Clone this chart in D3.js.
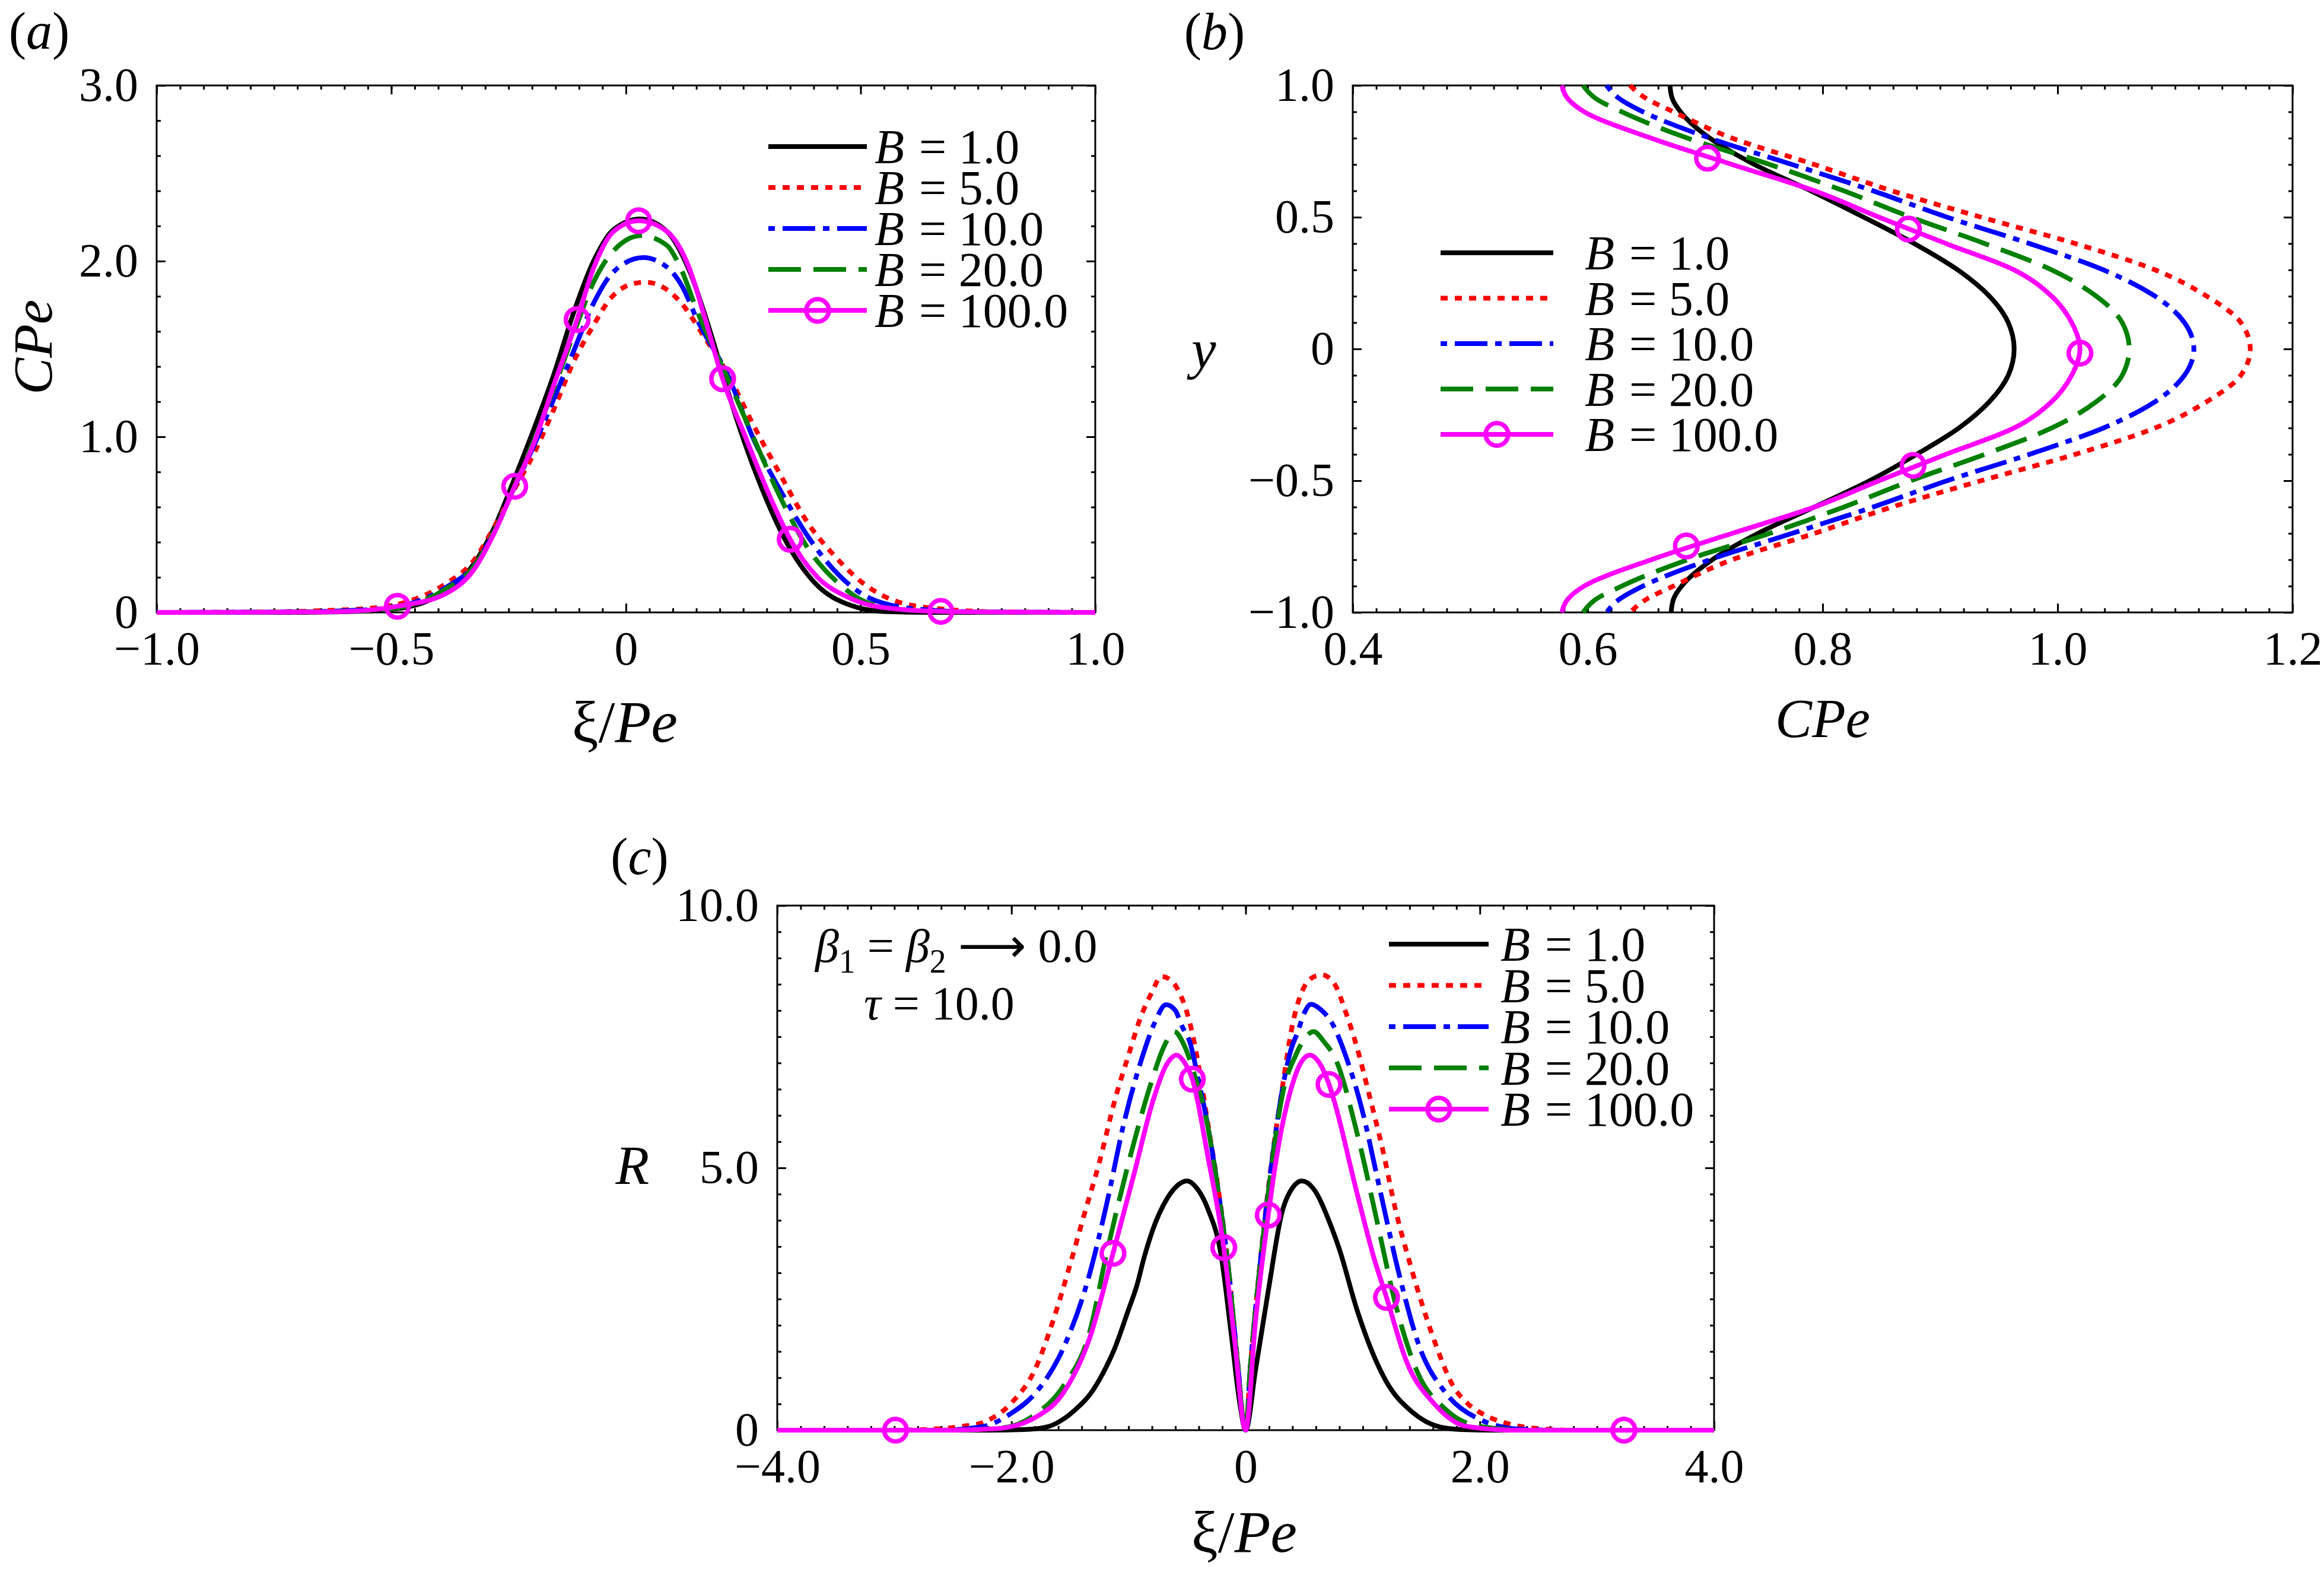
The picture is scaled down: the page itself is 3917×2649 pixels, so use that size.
<!DOCTYPE html>
<html>
<head>
<meta charset="utf-8">
<script src="https://cdn.jsdelivr.net/npm/d3@7"></script>
<style>
  body { margin: 0; background: #fff; }
  svg text { fill: #000; }
</style>
</head>
<body>
<svg id="fig" width="3917" height="2649"></svg>
<script>
const fontFamily = "'Liberation Serif', 'Times New Roman', serif"

// legend labels, one per B value
const bLabels = ['1.0', '5.0', '10.0', '20.0', '100.0']

// panel (a): CPe against xi/Pe, pairs of [xi/Pe, CPe]
const aB1 = [[-1, 0], [-0.7, 0], [-0.6, 0.004], [-0.535, 0.01], [-0.45, 0.04], [-0.386, 0.12], [-0.323, 0.28], [-0.28, 0.486], [-0.238, 0.758], [-0.196, 1.045], [-0.153, 1.36], [-0.111, 1.71], [-0.069, 2.0], [-0.026, 2.18], [0.03, 2.24], [0.087, 2.17], [0.135, 1.947], [0.184, 1.56], [0.217, 1.26], [0.256, 0.943], [0.3, 0.639], [0.342, 0.4], [0.405, 0.161], [0.478, 0.041], [0.55, 0.005], [0.65, 0], [1, 0]]
const aB5 = [[-1, 0], [-0.75, 0.003], [-0.65, 0.01], [-0.535, 0.026], [-0.45, 0.075], [-0.386, 0.16], [-0.323, 0.3], [-0.28, 0.49], [-0.238, 0.7], [-0.196, 0.905], [-0.153, 1.16], [-0.111, 1.43], [-0.069, 1.635], [-0.035, 1.78], [0.008, 1.866], [0.042, 1.88], [0.08, 1.85], [0.115, 1.77], [0.168, 1.564], [0.217, 1.357], [0.271, 1.07], [0.329, 0.784], [0.387, 0.512], [0.445, 0.32], [0.508, 0.161], [0.574, 0.065], [0.671, 0.02], [0.8, 0.003], [1, 0]]
const aB10 = [[-1, 0], [-0.7, 0.003], [-0.6, 0.01], [-0.535, 0.018], [-0.45, 0.058], [-0.386, 0.138], [-0.323, 0.27], [-0.28, 0.46], [-0.238, 0.71], [-0.196, 0.95], [-0.153, 1.22], [-0.111, 1.49], [-0.069, 1.76], [-0.026, 1.94], [0.037, 2.02], [0.09, 1.96], [0.119, 1.86], [0.153, 1.66], [0.217, 1.35], [0.274, 0.974], [0.334, 0.671], [0.392, 0.416], [0.455, 0.209], [0.52, 0.081], [0.62, 0.02], [0.75, 0.003], [1, 0]]
const aB20 = [[-1, 0], [-0.7, 0.002], [-0.6, 0.006], [-0.535, 0.012], [-0.45, 0.05], [-0.386, 0.13], [-0.323, 0.265], [-0.28, 0.465], [-0.238, 0.715], [-0.196, 0.98], [-0.153, 1.28], [-0.111, 1.59], [-0.069, 1.88], [-0.026, 2.06], [0.033, 2.145], [0.087, 2.09], [0.116, 1.963], [0.153, 1.707], [0.217, 1.33], [0.271, 1.0], [0.329, 0.655], [0.387, 0.368], [0.455, 0.161], [0.52, 0.05], [0.62, 0.01], [0.75, 0.002], [1, 0]]
const aB100 = [[-1, 0], [-0.7, 0.002], [-0.577, 0.008], [-0.487, 0.035], [-0.386, 0.104], [-0.323, 0.247], [-0.28, 0.455], [-0.237, 0.718], [-0.196, 0.965], [-0.153, 1.3], [-0.104, 1.667], [-0.069, 1.96], [-0.026, 2.17], [0.027, 2.23], [0.087, 2.17], [0.135, 1.96], [0.17, 1.66], [0.206, 1.33], [0.256, 0.99], [0.31, 0.64], [0.35, 0.416], [0.405, 0.209], [0.478, 0.081], [0.574, 0.02], [0.671, 0.006], [0.8, 0.002], [1, 0]]
const aMarkers = [[-0.487, 0.035], [-0.237, 0.718], [-0.104, 1.667], [0.027, 2.23], [0.206, 1.33], [0.35, 0.416], [0.671, 0.006]]

// panel (b): CPe at each y across the channel
const yLevels = [1, 0.95, 0.9, 0.8, 0.7, 0.6, 0.5, 0.4, 0.3, 0.2, 0.1, 0, -0.1, -0.2, -0.3, -0.4, -0.5, -0.6, -0.7, -0.8, -0.9, -0.95, -1]
const bB1 = [0.670, 0.672, 0.679, 0.704, 0.742, 0.790, 0.835, 0.878, 0.915, 0.942, 0.958, 0.963, 0.958, 0.942, 0.916, 0.880, 0.840, 0.793, 0.745, 0.706, 0.680, 0.673, 0.671]
const bB5 = [0.636, 0.650, 0.673, 0.723, 0.793, 0.859, 0.935, 1.015, 1.083, 1.127, 1.156, 1.164, 1.156, 1.127, 1.083, 1.015, 0.935, 0.859, 0.793, 0.723, 0.673, 0.650, 0.636]
const bB10 = [0.616, 0.627, 0.647, 0.704, 0.774, 0.843, 0.906, 0.976, 1.039, 1.083, 1.108, 1.116, 1.108, 1.083, 1.039, 0.976, 0.906, 0.843, 0.774, 0.704, 0.647, 0.627, 0.616]
const bB20 = [0.596, 0.607, 0.629, 0.685, 0.755, 0.818, 0.875, 0.938, 0.995, 1.033, 1.055, 1.061, 1.055, 1.033, 0.995, 0.938, 0.875, 0.818, 0.755, 0.685, 0.629, 0.607, 0.596]
const bB100 = [0.578, 0.583, 0.597, 0.654, 0.723, 0.793, 0.848, 0.905, 0.963, 0.995, 1.012, 1.019, 1.012, 0.995, 0.963, 0.905, 0.848, 0.793, 0.723, 0.654, 0.597, 0.583, 0.578]
const bMarkers = [[0.702, 0.724], [0.873, 0.455], [1.019, -0.016], [0.877, -0.442], [0.684, -0.748]]

// panel (c): R against xi/Pe
const cB1 = [[-4, 0], [-2.2, 0], [-1.9, 0.01], [-1.7, 0.06], [-1.55, 0.22], [-1.45, 0.4], [-1.33, 0.68], [-1.22, 1.08], [-1.12, 1.55], [-1.0, 2.3], [-0.93, 2.75], [-0.866, 3.3], [-0.77, 3.96], [-0.7, 4.3], [-0.59, 4.65], [-0.5, 4.75], [-0.42, 4.62], [-0.323, 4.22], [-0.21, 3.34], [-0.12, 1.77], [-0.05, 0.51], [0, 0], [0.084, 1.14], [0.197, 2.71], [0.31, 4.15], [0.4, 4.62], [0.48, 4.75], [0.58, 4.6], [0.717, 3.96], [0.8, 3.45], [0.95, 2.3], [1.07, 1.55], [1.2, 0.93], [1.42, 0.35], [1.66, 0.06], [1.85, 0.01], [2.1, 0], [4, 0]]
const cB5 = [[-4, 0], [-3, 0], [-2.6, 0.03], [-2.4, 0.08], [-2.24, 0.15], [-2.0, 0.52], [-1.8, 1.15], [-1.65, 2.05], [-1.5, 3.15], [-1.38, 4.1], [-1.25, 5.1], [-1.11, 6.35], [-1.0, 7.15], [-0.9, 7.85], [-0.8, 8.35], [-0.72, 8.65], [-0.64, 8.58], [-0.57, 8.36], [-0.46, 7.61], [-0.39, 6.79], [-0.323, 5.85], [-0.233, 4.59], [-0.143, 3.02], [-0.075, 1.45], [0, 0], [0.04, 1.2], [0.13, 3.34], [0.22, 5.09], [0.31, 6.48], [0.4, 7.73], [0.5, 8.45], [0.6, 8.66], [0.65, 8.68], [0.76, 8.5], [0.85, 8.0], [0.95, 7.3], [1.06, 6.35], [1.17, 5.35], [1.28, 4.2], [1.4, 3.2], [1.5, 2.45], [1.62, 1.65], [1.77, 0.85], [1.9, 0.5], [2.05, 0.28], [2.23, 0.13], [2.5, 0.03], [2.8, 0], [4, 0]]
const cB10 = [[-4, 0], [-2.6, 0], [-2.24, 0.07], [-2.01, 0.31], [-1.79, 0.72], [-1.56, 1.55], [-1.35, 2.84], [-1.19, 4.28], [-1.04, 5.85], [-0.885, 7.1], [-0.78, 7.75], [-0.68, 8.11], [-0.6, 8.0], [-0.55, 7.73], [-0.47, 7.35], [-0.41, 6.75], [-0.323, 5.8], [-0.233, 4.55], [-0.143, 3.0], [-0.075, 1.44], [0, 0], [0.04, 1.2], [0.13, 3.3], [0.22, 5.05], [0.31, 6.45], [0.38, 7.2], [0.446, 7.6], [0.5, 7.95], [0.559, 8.12], [0.64, 8.02], [0.74, 7.75], [0.86, 7.1], [0.988, 6.16], [1.146, 4.59], [1.305, 3.02], [1.486, 1.58], [1.712, 0.7], [2.005, 0.2], [2.34, 0.02], [2.7, 0], [4, 0]]
const cB20 = [[-4, 0], [-2.5, 0], [-2.06, 0.05], [-1.79, 0.31], [-1.56, 0.83], [-1.33, 1.89], [-1.19, 3.34], [-0.97, 5.35], [-0.81, 6.6], [-0.7, 7.3], [-0.61, 7.6], [-0.53, 7.36], [-0.44, 6.8], [-0.323, 5.78], [-0.233, 4.53], [-0.143, 3.0], [-0.075, 1.43], [0, 0], [0.04, 1.2], [0.13, 3.3], [0.22, 5.0], [0.31, 6.35], [0.43, 7.16], [0.5, 7.45], [0.58, 7.6], [0.67, 7.4], [0.762, 7.1], [0.966, 5.53], [1.124, 3.96], [1.28, 2.4], [1.46, 1.14], [1.71, 0.39], [2.0, 0.07], [2.4, 0], [4, 0]]
const cB100 = [[-4, 0], [-2.5, 0], [-2.12, 0.03], [-1.79, 0.25], [-1.56, 0.7], [-1.33, 1.77], [-1.133, 3.37], [-0.95, 4.91], [-0.79, 6.29], [-0.68, 6.95], [-0.59, 7.15], [-0.52, 7.0], [-0.455, 6.69], [-0.323, 5.22], [-0.187, 3.48], [-0.097, 1.77], [0, 0], [0.084, 2.08], [0.193, 4.1], [0.265, 5.22], [0.4, 6.6], [0.47, 7.0], [0.548, 7.15], [0.63, 7.0], [0.712, 6.59], [0.762, 6.23], [0.943, 4.59], [1.1, 3.25], [1.203, 2.53], [1.37, 1.33], [1.62, 0.48], [1.89, 0.07], [2.3, 0], [4, 0]]
const cMarkers = [[-2.99, 0], [-1.133, 3.37], [-0.455, 6.69], [-0.187, 3.48], [0.193, 4.1], [0.712, 6.59], [1.203, 2.53], [3.23, 0]]

// line styles, same order as bLabels
const styles = [
    { color: '#000000', dash: null },
    { color: '#ff0000', dash: '12,12' },
    { color: '#0000ff', dash: '55,13,11,13', offset: 68 },
    { color: '#008000', dash: '55,21' },
    { color: '#ff00ff', dash: null, marker: true }
]

const svg = d3.select('#fig')

const steps = (a, b, step) => d3.range(Math.round((b - a) / step) + 1).map(i => +(a + i * step).toFixed(4))
const fmt = d => d === 0 ? '0' : d3.format('.1f')(d)

function styleLine(sel, s) {
    return sel.attr('fill', 'none')
        .attr('stroke', s.color)
        .attr('stroke-width', 8)
        .attr('stroke-dasharray', s.dash)
        .attr('stroke-dashoffset', s.offset || 0)
}

function addText(x, y, parts, size, rotate) {
    const t = svg.append('text')
        .attr('font-family', fontFamily)
        .attr('font-size', size)
        .attr('text-anchor', 'middle')
        .attr('transform', `translate(${x},${y})` + (rotate ? ` rotate(${rotate})` : ''))
    parts.forEach(([str, italic]) => {
        t.append('tspan').attr('font-style', italic ? 'italic' : 'normal').text(str)
    })
    return t
}

function drawPanel(p) {
    const g = svg.append('g')
    const x = d3.scaleLinear().domain(p.xDomain).range([p.left, p.right])
    const y = d3.scaleLinear().domain(p.yDomain).range([p.bottom, p.top])

    g.append('rect')
        .attr('x', p.left).attr('y', p.top)
        .attr('width', p.right - p.left).attr('height', p.bottom - p.top)
        .attr('fill', 'none').attr('stroke', '#000').attr('stroke-width', 3)

    // ticks point inwards on all four sides, labels only bottom and left
    const sides = [
        [d3.axisBottom, x, `translate(0,${p.bottom})`, p.xMajor, p.xMinor, true],
        [d3.axisTop, x, `translate(0,${p.top})`, p.xMajor, p.xMinor, false],
        [d3.axisLeft, y, `translate(${p.left},0)`, p.yMajor, p.yMinor, true],
        [d3.axisRight, y, `translate(${p.right},0)`, p.yMajor, p.yMinor, false]
    ]
    sides.forEach(([axisFn, scale, tr, major, minor, labelled]) => {
        g.append('g').attr('transform', tr)
            .call(axisFn(scale).tickValues(minor).tickSize(-7).tickFormat(''))
            .call(a => a.select('.domain').remove())
            .call(a => a.selectAll('text').remove())
            .selectAll('line').attr('stroke-width', 3)
        g.append('g').attr('transform', tr)
            .call(axisFn(scale).tickValues(major).tickSize(-15).tickPadding(31).tickFormat(labelled ? fmt : ''))
            .call(a => a.select('.domain').remove())
            .call(a => { if (!labelled) a.selectAll('text').remove() })
            .call(a => a.attr('font-family', fontFamily).attr('font-size', 80))
            .selectAll('line').attr('stroke-width', 3)
    })

    const line = d3.line().x(d => x(d[0])).y(d => y(d[1])).curve(p.curve)
    p.series.forEach((data, i) => {
        g.append('path').datum(data).attr('d', line).call(styleLine, styles[i])
    })
    g.append('g').selectAll('circle').data(p.markers).join('circle')
        .attr('cx', d => x(d[0])).attr('cy', d => y(d[1]))
        .attr('r', 19).attr('fill', 'none')
        .attr('stroke', '#ff00ff').attr('stroke-width', 7.5)

    // legend
    const L = p.legend
    bLabels.forEach((lab, i) => {
        const ry = L.y0 + i * L.dy
        g.append('line')
            .attr('x1', L.x1).attr('x2', L.x2).attr('y1', ry).attr('y2', ry)
            .call(styleLine, styles[i])
        if (styles[i].marker) {
            g.append('circle').attr('cx', (L.x1 + L.x2) / 2).attr('cy', ry).attr('r', 19)
                .attr('fill', 'none').attr('stroke', '#ff00ff').attr('stroke-width', 7.5)
        }
        g.append('text').attr('x', L.tx).attr('y', ry + 28)
            .attr('font-family', fontFamily).attr('font-size', 82).attr('font-style', 'italic')
            .text('B')
        g.append('text').attr('x', L.tx + 75).attr('y', ry + 28)
            .attr('font-family', fontFamily).attr('font-size', 82)
            .text('= ' + lab)
    })
}

drawPanel({
    left: 264, right: 1846, top: 144, bottom: 1032,
    xDomain: [-1, 1], yDomain: [0, 3],
    xMajor: steps(-1, 1, 0.5), xMinor: steps(-1, 1, 0.05),
    yMajor: steps(0, 3, 1), yMinor: steps(0, 3, 0.2),
    curve: d3.curveMonotoneX,
    series: [aB1, aB5, aB10, aB20, aB100],
    markers: aMarkers,
    legend: { x1: 1295, x2: 1461, tx: 1474, y0: 247, dy: 69 }
})

drawPanel({
    left: 2280, right: 3864, top: 144, bottom: 1032,
    xDomain: [0.4, 1.2], yDomain: [-1, 1],
    xMajor: steps(0.4, 1.2, 0.2), xMinor: steps(0.4, 1.2, 0.02),
    yMajor: steps(-1, 1, 0.5), yMinor: steps(-1, 1, 0.1),
    curve: d3.curveMonotoneY,
    series: [bB1, bB5, bB10, bB20, bB100].map(vals => vals.map((v, i) => [v, yLevels[i]])),
    markers: bMarkers,
    legend: { x1: 2428, x2: 2618, tx: 2671, y0: 426, dy: 76.5 }
})

drawPanel({
    left: 1310, right: 2889, top: 1526, bottom: 2410,
    xDomain: [-4, 4], yDomain: [0, 10],
    xMajor: steps(-4, 4, 2), xMinor: steps(-4, 4, 0.2),
    yMajor: steps(0, 10, 5), yMinor: steps(0, 10, 0.5),
    curve: d3.curveMonotoneX,
    series: [cB1, cB5, cB10, cB20, cB100],
    markers: cMarkers,
    legend: { x1: 2341, x2: 2509, tx: 2529, y0: 1591, dy: 69.5 }
})

// panel tags
addText(66, 82, [['(', false], ['a', true], [')', false]], 88)
addText(2047, 83, [['(', false], ['b', true], [')', false]], 88)
addText(1078, 1473, [['(', false], ['c', true], [')', false]], 88)

// axis titles
addText(87, 585, [['CPe', true]], 93, -90)
addText(1053, 1250, [['ξ', false], ['/', false], ['Pe', true]], 100)
addText(2029, 620, [['y', true]], 93)
addText(3072, 1242, [['CPe', true]], 93)
addText(1066, 1995, [['R', true]], 93)
addText(2097, 2615, [['ξ', false], ['/', false], ['Pe', true]], 100)

// annotation in panel (c)
const note = svg.append('text').attr('x', 1374).attr('y', 1621)
    .attr('font-family', fontFamily).attr('font-size', 80)
note.append('tspan').attr('font-style', 'italic').text('β')
note.append('tspan').attr('font-size', 56).attr('dy', 18).text('1')
note.append('tspan').attr('dy', -18).text(' = ')
note.append('tspan').attr('font-style', 'italic').text('β')
note.append('tspan').attr('font-size', 56).attr('dy', 18).text('2')
note.append('tspan').attr('dy', -18).text(' ')
note.append('tspan').attr('font-family', "'DejaVu Sans', sans-serif").text('⟶')
note.append('tspan').text(' 0.0')

const note2 = svg.append('text').attr('x', 1456).attr('y', 1718)
    .attr('font-family', fontFamily).attr('font-size', 80)
note2.append('tspan').attr('font-style', 'italic').text('τ')
note2.append('tspan').text(' = 10.0')
</script>
</body>
</html>
